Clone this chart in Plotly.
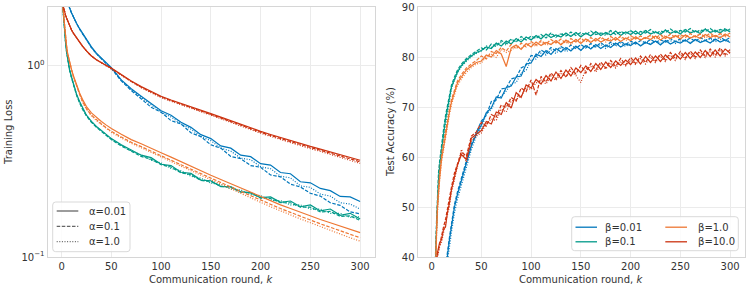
import plotly.graph_objects as go

# ---------------- data ----------------
K_LOSS = [1, 2, 3, 4, 5, 6, 8, 10, 12, 15,
          18, 21, 25, 30, 35, 40, 45, 50, 60, 70,
          80, 90, 100, 110, 120, 130, 140, 150, 160, 170,
          180, 190, 200, 210, 220, 230, 240, 250, 260, 270,
          280, 290, 300]

LOSS_B001 = {  # beta = 0.01 (blue)
    "a0.01": [2.6, 2.5, 2.4, 2.3, 2.22, 2.14, 2.0, 1.88, 1.78, 1.66,
              1.56, 1.47, 1.37, 1.25, 1.16, 1.09, 1.03, 0.975, 0.84, 0.755,
              0.69, 0.635, 0.58, 0.55, 0.505, 0.475, 0.435, 0.415, 0.38, 0.37,
              0.34, 0.334, 0.307, 0.302, 0.276, 0.272, 0.247, 0.244, 0.228, 0.222,
              0.207, 0.206, 0.195],
    "a0.1": [2.6, 2.5, 2.4, 2.3, 2.22, 2.14, 2.0, 1.88, 1.78, 1.66,
             1.55, 1.46, 1.36, 1.24, 1.15, 1.08, 1.02, 0.965, 0.83, 0.74,
             0.67, 0.605, 0.57, 0.515, 0.495, 0.445, 0.425, 0.385, 0.37, 0.335,
             0.326, 0.3, 0.294, 0.268, 0.262, 0.24, 0.232, 0.215, 0.208, 0.192,
             0.186, 0.172, 0.168],
    "a1.0": [2.6, 2.5, 2.4, 2.3, 2.22, 2.14, 2.0, 1.88, 1.78, 1.66,
             1.55, 1.46, 1.36, 1.24, 1.15, 1.08, 1.02, 0.97, 0.835, 0.745,
             0.68, 0.625, 0.57, 0.538, 0.495, 0.465, 0.425, 0.405, 0.37, 0.357,
             0.328, 0.322, 0.296, 0.289, 0.264, 0.259, 0.235, 0.231, 0.213, 0.208,
             0.192, 0.189, 0.178],
}
LOSS_B01 = {  # beta = 0.1 (teal)
    "a0.01": [2.1, 1.75, 1.5, 1.32, 1.18, 1.08, 0.95, 0.87, 0.8, 0.71,
              0.65, 0.6, 0.55, 0.51, 0.48, 0.458, 0.435, 0.415, 0.385, 0.36,
              0.34, 0.33, 0.305, 0.3, 0.277, 0.273, 0.252, 0.25, 0.233, 0.233,
              0.219, 0.217, 0.204, 0.206, 0.193, 0.196, 0.183, 0.187, 0.174, 0.178,
              0.165, 0.169, 0.158],
    "a0.1": [2.1, 1.75, 1.5, 1.32, 1.18, 1.08, 0.95, 0.86, 0.79, 0.70,
             0.64, 0.59, 0.545, 0.505, 0.476, 0.452, 0.43, 0.41, 0.38, 0.357,
             0.335, 0.324, 0.303, 0.295, 0.275, 0.269, 0.251, 0.248, 0.234, 0.231,
             0.218, 0.216, 0.203, 0.202, 0.192, 0.192, 0.182, 0.182, 0.172, 0.173,
             0.163, 0.164, 0.155],
    "a1.0": [2.1, 1.75, 1.5, 1.32, 1.18, 1.08, 0.95, 0.865, 0.795, 0.705,
             0.645, 0.595, 0.548, 0.508, 0.478, 0.455, 0.432, 0.413, 0.383, 0.358,
             0.341, 0.32, 0.31, 0.29, 0.282, 0.264, 0.258, 0.243, 0.239, 0.226,
             0.224, 0.212, 0.209, 0.198, 0.197, 0.187, 0.187, 0.178, 0.178, 0.169,
             0.169, 0.161, 0.162],
}
LOSS_B1 = {  # beta = 1.0 (orange)
    "a0.01": [2.1, 1.8, 1.56, 1.39, 1.26, 1.16, 1.03, 0.95, 0.88, 0.79,
              0.72, 0.665, 0.61, 0.565, 0.535, 0.51, 0.488, 0.468, 0.437, 0.41,
              0.39, 0.368, 0.35, 0.332, 0.314, 0.298, 0.282, 0.267, 0.254, 0.241,
              0.229, 0.217, 0.206, 0.196, 0.187, 0.179, 0.171, 0.164, 0.157, 0.151,
              0.145, 0.139, 0.134],
    "a0.1": [2.1, 1.8, 1.56, 1.39, 1.26, 1.16, 1.03, 0.95, 0.87, 0.78,
             0.71, 0.65, 0.595, 0.55, 0.52, 0.495, 0.472, 0.453, 0.423, 0.397,
             0.377, 0.356, 0.338, 0.32, 0.303, 0.287, 0.272, 0.257, 0.244, 0.232,
             0.22, 0.209, 0.198, 0.188, 0.179, 0.171, 0.163, 0.156, 0.149, 0.143,
             0.137, 0.131, 0.126],
    "a1.0": [2.1, 1.8, 1.56, 1.39, 1.26, 1.16, 1.03, 0.95, 0.87, 0.78,
             0.705, 0.645, 0.59, 0.545, 0.515, 0.49, 0.467, 0.448, 0.418, 0.392,
             0.372, 0.351, 0.333, 0.315, 0.298, 0.282, 0.267, 0.252, 0.239, 0.227,
             0.215, 0.204, 0.193, 0.183, 0.174, 0.166, 0.158, 0.151, 0.144, 0.138,
             0.132, 0.126, 0.121],
}
LOSS_B10 = {  # beta = 10.0 (red)
    "a0.01": [2.1, 1.98, 1.9, 1.83, 1.77, 1.71, 1.61, 1.53, 1.47, 1.39,
              1.32, 1.26, 1.19, 1.12, 1.07, 1.03, 1.0, 0.97, 0.895, 0.83,
              0.775, 0.73, 0.69, 0.66, 0.632, 0.606, 0.582, 0.56, 0.537, 0.514,
              0.492, 0.472, 0.453, 0.436, 0.42, 0.405, 0.391, 0.378, 0.366, 0.354,
              0.342, 0.331, 0.32],
    "a0.1": [2.1, 1.98, 1.9, 1.83, 1.77, 1.71, 1.61, 1.53, 1.47, 1.39,
             1.32, 1.26, 1.19, 1.12, 1.07, 1.03, 1.0, 0.965, 0.89, 0.825,
             0.77, 0.725, 0.685, 0.655, 0.627, 0.601, 0.577, 0.555, 0.532, 0.509,
             0.487, 0.467, 0.448, 0.431, 0.415, 0.4, 0.386, 0.373, 0.361, 0.349,
             0.337, 0.326, 0.314],
    "a1.0": [2.1, 1.98, 1.9, 1.83, 1.77, 1.71, 1.61, 1.53, 1.47, 1.39,
             1.32, 1.26, 1.19, 1.12, 1.07, 1.03, 0.995, 0.96, 0.885, 0.82,
             0.765, 0.72, 0.68, 0.65, 0.622, 0.596, 0.572, 0.55, 0.527, 0.504,
             0.482, 0.462, 0.443, 0.426, 0.41, 0.395, 0.381, 0.368, 0.356, 0.344,
             0.332, 0.32, 0.308],
}

K_ACC = [1, 2, 3, 4, 5, 6, 7, 8, 10, 12,
         14, 16, 18, 20, 23, 26, 30, 35, 40, 45,
         50, 55, 60, 65, 70, 75, 80, 85, 90, 95,
         100, 105, 110, 115, 120, 125, 130, 135, 140, 145,
         150, 155, 160, 165, 170, 175, 180, 185, 190, 195,
         200, 205, 210, 215, 220, 225, 230, 235, 240, 245,
         250, 255, 260, 265, 270, 275, 280, 285, 290, 295,
         300]

ACC_B001 = {
    "a0.01": [10, 13, 16, 19, 22, 25, 27, 29, 32, 35,
              37.5, 40.3, 43.5, 46.5, 50, 52.5, 55.5, 58.8, 62.2, 64.6,
              66.4, 68.9, 69.8, 72.0, 71.8, 73.9, 74.2, 76.0, 76.2, 78.6,
              78.8, 80.6, 80.1, 81.3, 80.5, 81.7, 81.0, 81.9, 81.2, 82.2,
              81.3, 82.3, 81.6, 82.5, 81.7, 82.4, 81.9, 82.8, 82.0, 82.6,
              82.3, 83.0, 82.2, 82.9, 82.5, 83.2, 82.4, 83.3, 82.6, 83.1,
              82.8, 83.4, 82.7, 83.5, 82.9, 83.3, 82.8, 83.6, 83.0, 83.4,
              82.9],
    "a0.1": [10, 13, 16, 19, 22, 25, 27.5, 29.5, 32.5, 35.5,
             38, 41, 44, 47, 50.5, 53, 56, 59.3, 62.6, 65,
             67.2, 68.3, 71.1, 71.4, 73.6, 73.8, 75.6, 75.9, 77.8, 78.4,
             80.3, 80.1, 81.4, 80.8, 81.9, 81.2, 82.1, 81.5, 82.4, 81.7,
             82.5, 81.8, 82.7, 82.0, 82.9, 82.1, 83.0, 82.4, 83.1, 82.5,
             83.2, 82.6, 83.3, 82.8, 83.5, 82.9, 83.4, 83.0, 83.7, 83.1,
             83.6, 83.2, 83.8, 83.1, 83.9, 83.3, 83.8, 83.4, 84.0, 83.3,
             83.9],
    "a1.0": [9, 12, 15, 18, 21, 24, 26, 28, 31, 34,
             36.5, 39, 42, 45, 48.8, 51.5, 54.5, 58, 61.5, 64.2,
             65.8, 68.6, 69.5, 71.7, 72.1, 73.2, 74.6, 74.9, 76.8, 77.3,
             79.4, 79.6, 80.8, 80.4, 81.4, 80.7, 81.8, 81.1, 81.6, 82.0,
             81.4, 82.3, 81.8, 82.1, 82.5, 81.7, 82.6, 82.2, 82.8, 82.1,
             82.7, 82.9, 82.3, 83.1, 82.6, 83.2, 82.7, 83.0, 83.3, 82.7,
             83.2, 83.4, 82.9, 83.5, 83.1, 83.3, 83.6, 83.0, 83.5, 83.2,
             83.3],
}
ACC_B01 = {
    "a0.01": [14, 24, 33, 40, 46, 51.5, 55.5, 58, 62, 64.5,
              67.5, 69.8, 72, 74, 75.5, 77, 78.3, 79.4, 80.2, 80.9,
              81.3, 82.0, 81.7, 82.8, 82.2, 83.2, 82.6, 83.7, 83.0, 84.0,
              83.4, 84.3, 83.6, 84.6, 83.9, 84.4, 84.0, 84.8, 84.1, 84.9,
              84.0, 84.8, 84.2, 85.1, 84.3, 84.9, 84.4, 85.2, 84.3, 85.0,
              84.5, 85.2, 84.4, 85.3, 84.6, 85.0, 84.5, 85.4, 84.7, 85.2,
              84.6, 85.5, 84.8, 85.2, 84.7, 85.6, 84.9, 85.3, 84.8, 85.6,
              85.0],
    "a0.1": [15, 25, 34, 41, 47.5, 53, 57, 59, 63, 65.5,
             68.3, 70.5, 72.6, 74.4, 76, 77.4, 78.6, 79.7, 80.5, 81.2,
             81.8, 81.4, 82.6, 82.1, 83.3, 82.7, 83.6, 83.0, 84.1, 83.4,
             84.2, 83.7, 84.5, 83.8, 84.8, 84.0, 84.6, 84.2, 85.0, 84.3,
             84.9, 84.4, 85.2, 84.5, 84.8, 84.6, 85.3, 84.5, 85.1, 84.7,
             85.3, 84.6, 85.1, 84.8, 85.5, 84.7, 85.2, 84.9, 85.6, 84.9,
             85.3, 85.0, 85.7, 84.9, 85.4, 85.1, 85.7, 85.0, 85.5, 85.2,
             85.6],
    "a1.0": [14, 23, 32, 39, 45.5, 51, 55, 57.5, 61.5, 64,
             67, 69.5, 71.8, 73.6, 75.4, 76.8, 78.1, 79.2, 80.1, 80.7,
             81.2, 82.2, 81.9, 82.5, 82.9, 82.4, 83.4, 83.1, 83.5, 83.9,
             83.5, 84.2, 83.9, 84.4, 84.6, 83.9, 84.7, 84.4, 84.2, 84.9,
             84.4, 84.7, 84.3, 85.0, 84.6, 84.3, 85.1, 84.5, 84.9, 84.6,
             85.2, 84.6, 84.9, 85.3, 84.7, 85.1, 84.8, 85.4, 84.8, 85.2,
             85.0, 85.5, 84.9, 85.3, 85.1, 85.6, 85.0, 85.4, 85.2, 85.7,
             85.1],
}
ACC_B1 = {
    "a0.01": [13, 22, 31, 39, 45, 50, 53.5, 55.5, 59.5, 62,
              64.5, 66.8, 69, 71, 73, 74.8, 76, 77.4, 78.2, 78.9,
              79.2, 80.4, 80.0, 81.3, 80.6, 78.1, 81.8, 82.4, 81.5, 82.7,
              82.0, 83.0, 82.3, 82.9, 82.5, 83.3, 82.4, 83.4, 82.8, 83.5,
              82.7, 83.6, 82.9, 83.7, 83.0, 83.5, 83.2, 83.9, 83.1, 83.8,
              83.3, 84.0, 83.4, 83.9, 83.5, 84.2, 83.4, 84.1, 83.7, 84.3,
              83.6, 84.4, 83.8, 84.2, 83.7, 84.5, 83.9, 84.3, 83.8, 84.6,
              84.0],
    "a0.1": [14, 23, 32, 40, 46, 51, 54.5, 56.5, 60.5, 63,
             65.3, 67.5, 69.6, 71.5, 73.5, 75.2, 76.5, 77.8, 78.6, 79.3,
             80.2, 79.6, 81.1, 80.7, 81.9, 81.2, 82.5, 81.6, 82.8, 82.0,
             83.1, 82.4, 83.3, 82.6, 83.5, 82.8, 83.6, 82.7, 83.7, 83.0,
             83.8, 83.0, 83.9, 83.2, 84.0, 83.3, 84.1, 83.4, 84.2, 83.5,
             84.3, 83.6, 84.2, 83.7, 84.4, 83.8, 84.5, 83.7, 84.6, 83.9,
             84.5, 83.9, 84.7, 84.0, 84.6, 84.1, 84.8, 84.0, 84.7, 84.2,
             84.8],
    "a1.0": [12, 21, 30, 38, 44, 49, 52.5, 55, 59, 61.5,
             64, 66.3, 68.5, 70.5, 72.5, 74.3, 75.6, 76.9, 77.9, 78.6,
             78.8, 80.1, 80.6, 79.9, 81.5, 80.9, 81.3, 82.2, 81.7, 82.5,
             82.8, 82.1, 83.0, 82.4, 82.6, 83.3, 82.7, 83.1, 82.5, 83.5,
             83.0, 83.6, 83.1, 83.3, 83.8, 83.0, 83.6, 83.4, 84.0, 83.3,
             83.7, 84.1, 83.5, 83.9, 84.2, 83.6, 84.0, 84.3, 83.7, 84.2,
             84.0, 84.4, 83.9, 84.2, 84.5, 83.8, 84.3, 84.1, 84.6, 84.0,
             84.4],
}
ACC_B10 = {
    "a0.01": [20, 26, 31, 35, 39, 41, 42, 42.8, 43.5, 45.5,
              46, 49, 50.8, 53.5, 56, 58.4, 60.5, 59.5, 63.8, 64.5,
              65.3, 67.1, 66.6, 69.0, 68.5, 70.9, 69.8, 72.9, 71.9, 74.4,
              73.8, 75.5, 74.6, 76.3, 75.2, 77.0, 75.7, 77.4, 76.2, 77.8,
              76.9, 78.2, 77.1, 78.7, 77.5, 79.0, 77.9, 79.2, 78.3, 79.4,
              78.5, 79.8, 78.6, 80.1, 78.9, 80.2, 79.1, 80.4, 79.4, 80.6,
              79.6, 80.9, 79.7, 81.0, 79.9, 81.3, 80.1, 81.4, 80.2, 81.6,
              80.8],
    "a0.1": [19, 25, 30, 34.5, 38.5, 40.5, 41.5, 42.5, 44, 46,
             47.5, 49.8, 51.5, 54, 56.8, 58.8, 61, 60.2, 64.2, 65,
             66.9, 66.2, 68.5, 68.0, 70.4, 69.9, 71.9, 71.2, 73.8, 73.1,
             75.4, 72.4, 76.1, 75.0, 76.8, 75.6, 77.3, 76.0, 77.9, 76.6,
             78.3, 76.8, 78.7, 77.4, 79.0, 77.8, 79.3, 78.1, 79.7, 78.4,
             79.9, 78.7, 80.2, 78.9, 80.5, 79.2, 80.6, 79.4, 80.9, 79.6,
             81.1, 79.8, 81.2, 80.0, 81.4, 80.2, 81.6, 80.3, 81.8, 80.5,
             81.5],
    "a1.0": [18, 24, 29, 34, 38, 40, 41, 42, 43, 45,
             46.5, 48.5, 50.2, 53, 55.5, 58, 61.5, 59, 63.2, 64.2,
             64.8, 66.7, 67.6, 67.3, 69.6, 69.0, 71.2, 71.5, 72.2, 73.9,
             73.5, 74.8, 75.4, 74.6, 76.2, 75.3, 76.7, 76.0, 77.2, 76.3,
             74.9, 77.6, 78.1, 77.0, 78.4, 77.6, 78.8, 77.8, 79.1, 78.2,
             79.3, 78.5, 79.7, 78.6, 80.0, 78.9, 80.2, 79.1, 80.4, 79.3,
             80.6, 79.5, 80.8, 79.7, 81.0, 79.9, 81.1, 80.0, 81.3, 80.2,
             80.9],
}

BETA_LABELS = ["β=0.01", "β=0.1", "β=1.0", "β=10.0"]
ALPHA_KEYS = ["a0.01", "a0.1", "a1.0"]
ALPHA_LABELS = ["α=0.01", "α=0.1", "α=1.0"]
X_TICKS = [0, 50, 100, 150, 200, 250, 300]
ACC_TICKS = [40, 50, 60, 70, 80, 90]

for d in (LOSS_B001, LOSS_B01, LOSS_B1, LOSS_B10):
    for v in d.values():
        assert len(v) == len(K_LOSS), len(v)
for d in (ACC_B001, ACC_B01, ACC_B1, ACC_B10):
    for v in d.values():
        assert len(v) == len(K_ACC), len(v)

# ---------------- style ----------------
COLORS = ["#0077BB", "#009988", "#EE7733", "#CC3311"]
DASHES = ["solid", "3.5px,1.6px", "1px,1.6px"]
W, H = 748, 290
FONT = "DejaVu Sans"
TXT = "#333333"
GRID = "#ebebeb"
SPINE = "#d6d6d6"


def px(x):
    return x / W


def py(y):
    return 1 - y / H


fig = go.Figure()

loss_sets = [LOSS_B001, LOSS_B01, LOSS_B1, LOSS_B10]
acc_sets = [ACC_B001, ACC_B01, ACC_B1, ACC_B10]

for ci, d in enumerate(loss_sets):
    for ai, key in enumerate(ALPHA_KEYS):
        fig.add_trace(go.Scatter(
            x=K_LOSS, y=d[key], mode="lines", xaxis="x", yaxis="y",
            line=dict(color=COLORS[ci], width=1.2, dash=DASHES[ai]),
            name=f"{BETA_LABELS[ci]}, {ALPHA_LABELS[ai]}",
            showlegend=False, hoverinfo="skip"))

for ci, d in enumerate(acc_sets):
    for ai, key in enumerate(ALPHA_KEYS):
        fig.add_trace(go.Scatter(
            x=K_ACC, y=d[key], mode="lines", xaxis="x2", yaxis="y2",
            line=dict(color=COLORS[ci], width=1.2, dash=DASHES[ai]),
            name=f"{BETA_LABELS[ci]}, {ALPHA_LABELS[ai]}",
            showlegend=False, hoverinfo="skip"))

x_dom1 = [47.7 / W, 375 / W]
x_dom2 = [417.7 / W, 745 / W]
y_dom = [1 - 257 / H, 1 - 7 / H]

axis_common = dict(
    showgrid=True, gridcolor=GRID, gridwidth=1,
    showline=True, linecolor=SPINE, linewidth=1.3, mirror=True,
    ticks="", zeroline=False, automargin=False,
    tickfont=dict(family=FONT, size=10, color=TXT),
)

fig.update_layout(
    template="none",
    width=W, height=H,
    margin=dict(l=0, r=0, t=0, b=0, pad=0, autoexpand=False),
    paper_bgcolor="white", plot_bgcolor="white",
    font=dict(family=FONT, size=10, color=TXT),
    showlegend=False,
    xaxis=dict(domain=x_dom1, range=[-13.95, 314.95], tickvals=X_TICKS,
               anchor="y", **axis_common),
    yaxis=dict(domain=y_dom, type="log", range=[-1, 0.305],
               tickvals=[0.1, 1], ticktext=["10<sup>−1</sup>", "10<sup>0</sup>"],
               anchor="x", **axis_common),
    xaxis2=dict(domain=x_dom2, range=[-13.95, 314.95], tickvals=X_TICKS,
                anchor="y2", **axis_common),
    yaxis2=dict(domain=y_dom, range=[40, 90], tickvals=ACC_TICKS,
                anchor="x2", **axis_common),
)


def rrect(x0, y0, x1, y1, r=3):
    p = (f"M{px(x0 + r)},{py(y0)} L{px(x1 - r)},{py(y0)} "
         f"Q{px(x1)},{py(y0)} {px(x1)},{py(y0 + r)} "
         f"L{px(x1)},{py(y1 - r)} Q{px(x1)},{py(y1)} {px(x1 - r)},{py(y1)} "
         f"L{px(x0 + r)},{py(y1)} Q{px(x0)},{py(y1)} {px(x0)},{py(y1 - r)} "
         f"L{px(x0)},{py(y0 + r)} Q{px(x0)},{py(y0)} {px(x0 + r)},{py(y0)} Z")
    return dict(type="path", path=p, xref="paper", yref="paper",
                line=dict(color="#d9d9d9", width=1),
                fillcolor="rgba(255,255,255,0.85)", layer="above")


# legend boxes
fig.add_shape(**rrect(52.7, 202, 130, 251.7))
fig.add_shape(**rrect(571.7, 216.7, 738.3, 250.7))

# legend entries: (line x0, line x1, text x, row y, colour, dash, label)
LEG_ALPHA_ROWS = [211, 226.3, 241.7]
legend_items = []
for ai, lab in enumerate(ALPHA_LABELS):
    legend_items.append((56.7, 78.3, 86.5, LEG_ALPHA_ROWS[ai], "#666666",
                         DASHES[ai], lab))
LEG_BETA_POS = [(575.5, 597, 603, 227.2), (575.5, 597, 603, 241.8),
                (665.3, 687, 695.5, 227.2), (665.3, 687, 695.5, 241.8)]
for ci, lab in enumerate(BETA_LABELS):
    x0, x1, tx, yy = LEG_BETA_POS[ci]
    legend_items.append((x0, x1, tx, yy, COLORS[ci], "solid", lab))

for x0, x1, tx, yy, col, dash, lab in legend_items:
    fig.add_shape(type="line", xref="paper", yref="paper",
                  x0=px(x0), x1=px(x1), y0=py(yy), y1=py(yy),
                  line=dict(color=col, width=1.3, dash=dash), layer="above")
    fig.add_annotation(xref="paper", yref="paper", x=px(tx), y=py(yy),
                       text=lab, showarrow=False, xanchor="left",
                       yanchor="middle",
                       font=dict(family=FONT, size=10, color=TXT))

ann = [
    dict(text="Training Loss", x=8 / W, y=1 - 132 / H, textangle=-90),
    dict(text="Test Accuracy (%)", x=390 / W, y=1 - 132 / H, textangle=-90),
    dict(text="Communication round, <i>k</i>", x=211 / W, y=1 - 279 / H),
    dict(text="Communication round, <i>k</i>", x=581 / W, y=1 - 279 / H),
]
for a in ann:
    fig.add_annotation(xref="paper", yref="paper", showarrow=False,
                       xanchor="center", yanchor="middle",
                       font=dict(family=FONT, size=10, color=TXT), **a)

fig.write_html("out.html",
               config={"displayModeBar": False, "responsive": False},
               post_script="document.body.style.margin='0';"
                           "document.body.style.overflow='hidden';")
